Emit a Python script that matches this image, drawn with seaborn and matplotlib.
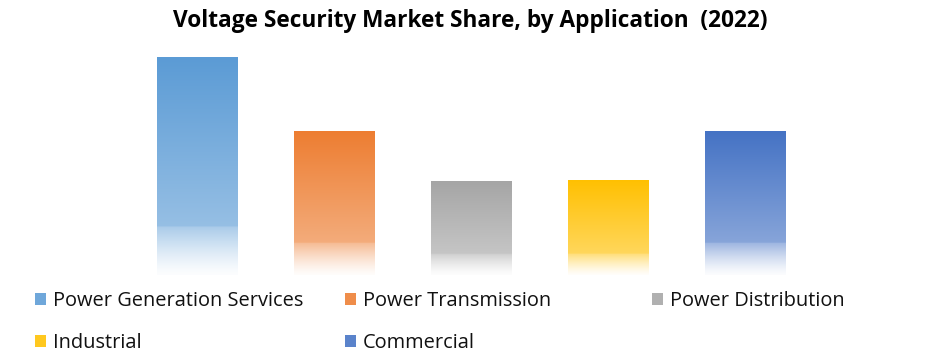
import numpy as np
import pandas as pd
import matplotlib
matplotlib.use("Agg")
import matplotlib.pyplot as plt
import matplotlib.colors as mcolors
from matplotlib.patches import Rectangle
import seaborn as sns

categories = ["Power Generation Services", "Power Transmission", "Power Distribution",
              "Industrial", "Commercial"]
shares = [37.5, 24.8, 16.2, 16.4, 24.8]
colors = ["#5B9BD5", "#ED7D31", "#A5A5A5", "#FFC000", "#4472C4"]
title = "Voltage Security Market Share, by Application  (2022)"

sns.set_theme(style="white")
plt.rcParams["font.family"] = ["Open Sans", "DejaVu Sans"]

fig = plt.figure(figsize=(9.41, 3.63), dpi=100)
ax = fig.add_axes([128.5 / 941, 88 / 363, 685 / 941, 232.5 / 363])

df = pd.DataFrame({"cat": categories, "val": shares})
sns.barplot(data=df, x="cat", y="val", hue="cat", palette=colors, width=0.584,
            legend=False, ax=ax, saturation=1)
ax.set_ylim(0, 40)
ax.set_xlim(-0.5, 4.5)
ax.axis("off")


def mix(c, w):
    c = np.array(mcolors.to_rgb(c))
    return c * (1 - w) + np.ones(3) * w


def gradient(c, n=256):
    t = np.linspace(0, 1, n)  # 0 bottom, 1 top
    out = np.zeros((n, 3))
    top = mix(c, 0.0)
    light = mix(c, 0.36)
    fade_hi = mix(c, 0.48)
    for i, ti in enumerate(t):
        if ti >= 0.22:
            s = (ti - 0.22) / 0.78
            out[i] = light * (1 - s) + top * s
        else:
            s = (ti / 0.22) ** 1.3
            out[i] = mix(c, 0.98) * (1 - s) + fade_hi * s
    return out[::-1][:, None, :]


for patch, c in zip(ax.patches, colors):
    x0, y0 = patch.get_x(), patch.get_y()
    w, h = patch.get_width(), patch.get_height()
    patch.set_facecolor("none")
    patch.set_edgecolor("none")
    im = ax.imshow(gradient(c), extent=(x0, x0 + w, y0, y0 + h), aspect="auto",
                   interpolation="bilinear", zorder=2)
    im.set_clip_path(patch)

ax.set_xlim(-0.5, 4.5)
ax.set_ylim(0, 40)

fig.text(0.5, 1 - 21 / 363, title, ha="center", va="center", fontsize=16.3,
         fontweight="bold", color="#000000")

columns = [[0, 3], [1, 4], [2]]
xs = [35, 345, 652]
for col, x in zip(columns, xs):
    handles = [Rectangle((0, 0), 1, 1, facecolor=mix(colors[i], 0.12), edgecolor="none")
               for i in col]
    labels = [categories[i] for i in col]
    fig.legend(handles, labels, loc="upper left", bbox_to_anchor=(x / 941, 1 - 291 / 363),
               frameon=False, fontsize=14.4, handlelength=0.55, handleheight=0.55,
               handletextpad=0.35, labelspacing=1.08, borderpad=0, borderaxespad=0,
               labelcolor="#111111")

fig.savefig("out.png", dpi=100, facecolor="white")
